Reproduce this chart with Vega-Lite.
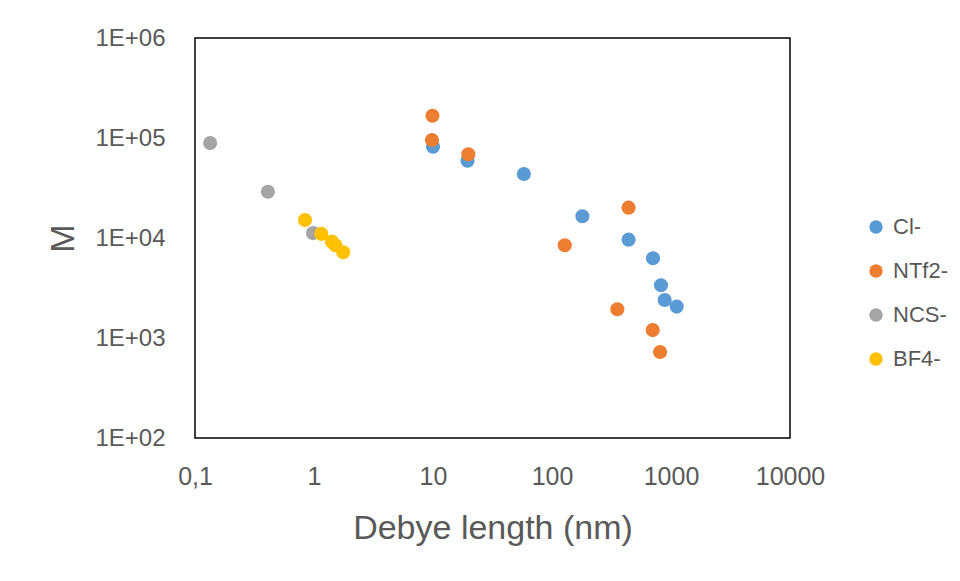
{
  "$schema": "https://vega.github.io/schema/vega-lite/v6.json",
  "width": 595,
  "height": 400,
  "autosize": {"type": "none"},
  "padding": {"left": 195, "top": 38, "right": 170, "bottom": 143},
  "background": "white",
  "config": {
    "font": "Liberation Sans",
    "view": {"stroke": "#000000", "strokeWidth": 1.5},
    "axis": {"grid": false, "ticks": false, "domain": false, "labelFlush": false, "labelOverlap": false, "labelColor": "#595959", "titleColor": "#595959", "labelFont": "Liberation Sans", "titleFont": "Liberation Sans", "titleFontWeight": "normal"}
  },
  "data": {
    "values": [
      {"x": 10, "y": 81900, "ion": "Cl-"},
      {"x": 19.5, "y": 59300, "ion": "Cl-"},
      {"x": 58, "y": 43600, "ion": "Cl-"},
      {"x": 180, "y": 16500, "ion": "Cl-"},
      {"x": 440, "y": 9620, "ion": "Cl-"},
      {"x": 706, "y": 6270, "ion": "Cl-"},
      {"x": 824, "y": 3370, "ion": "Cl-"},
      {"x": 885, "y": 2400, "ion": "Cl-"},
      {"x": 1117, "y": 2060, "ion": "Cl-"},
      {"x": 9.9, "y": 167000, "ion": "NTf2-"},
      {"x": 9.8, "y": 95500, "ion": "NTf2-"},
      {"x": 19.8, "y": 68700, "ion": "NTf2-"},
      {"x": 128, "y": 8460, "ion": "NTf2-"},
      {"x": 440, "y": 20100, "ion": "NTf2-"},
      {"x": 354, "y": 1940, "ion": "NTf2-"},
      {"x": 702, "y": 1200, "ion": "NTf2-"},
      {"x": 809, "y": 724, "ion": "NTf2-"},
      {"x": 0.134, "y": 89000, "ion": "NCS-"},
      {"x": 0.41, "y": 29000, "ion": "NCS-"},
      {"x": 0.98, "y": 11200, "ion": "NCS-"},
      {"x": 0.84, "y": 15100, "ion": "BF4-"},
      {"x": 1.15, "y": 11000, "ion": "BF4-"},
      {"x": 1.41, "y": 9200, "ion": "BF4-"},
      {"x": 1.51, "y": 8460, "ion": "BF4-"},
      {"x": 1.76, "y": 7200, "ion": "BF4-"}
    ]
  },
  "mark": {"type": "circle", "size": 200, "opacity": 1},
  "encoding": {
    "x": {
      "field": "x", "type": "quantitative",
      "scale": {"type": "log", "domain": [0.1, 10000], "nice": false},
      "axis": {
        "values": [0.1, 1, 10, 100, 1000, 10000],
        "labelExpr": "datum.value < 1 ? '0,1' : format(datum.value, 'd')",
        "labelFontSize": 25, "labelPadding": 26,
        "title": "Debye length (nm)", "titleFontSize": 34, "titlePadding": 22
      }
    },
    "y": {
      "field": "y", "type": "quantitative",
      "scale": {"type": "log", "domain": [100, 1000000], "nice": false},
      "axis": {
        "values": [100, 1000, 10000, 100000, 1000000],
        "labelExpr": "'1E+0' + format(round(log(datum.value) / LN10), 'd')",
        "labelFontSize": 24, "labelPadding": 30,
        "title": "M", "titleFontSize": 34, "titlePadding": 14
      }
    },
    "color": {
      "field": "ion", "type": "nominal",
      "scale": {"domain": ["Cl-", "NTf2-", "NCS-", "BF4-"], "range": ["#5B9BD5", "#ED7D31", "#A5A5A5", "#FFC000"]},
      "legend": {
        "title": null, "orient": "none", "legendX": 670, "legendY": 178,
        "symbolType": "circle", "symbolSize": 180, "symbolOpacity": 1,
        "labelFontSize": 22, "labelColor": "#595959", "rowPadding": 22, "labelOffset": 6
      }
    }
  }
}
